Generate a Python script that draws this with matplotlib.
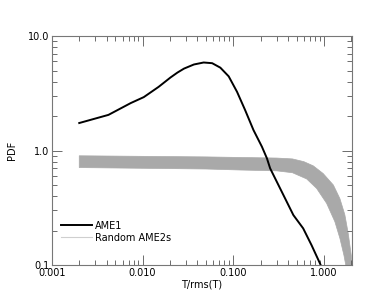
import numpy as np
import matplotlib
matplotlib.use("Agg")
import matplotlib.pyplot as plt
from matplotlib.ticker import FixedLocator, FixedFormatter, LogLocator, NullFormatter

# AME1 curve
ame1_x = [0.002, 0.0042, 0.0074, 0.0103, 0.015, 0.0203, 0.0242, 0.0286, 0.0368, 0.0471,
          0.0585, 0.072, 0.089, 0.110, 0.135, 0.167, 0.207, 0.235, 0.255, 0.357,
          0.46, 0.59, 0.73, 0.90, 0.93]
ame1_y = [1.74, 2.05, 2.6, 2.93, 3.6, 4.35, 4.8, 5.2, 5.65, 5.88,
          5.8, 5.3, 4.45, 3.26, 2.26, 1.51, 1.08, 0.855, 0.699, 0.409,
          0.273, 0.209, 0.149, 0.104, 0.098]

# Random AME2s band (upper and lower envelopes)
up_x = [0.002, 0.01, 0.05, 0.12, 0.3, 0.45, 0.6, 0.763, 0.98, 1.27, 1.5, 1.70, 1.85, 2.0, 2.03]
up_y = [0.90, 0.89, 0.88, 0.87, 0.86, 0.845, 0.80, 0.735, 0.63, 0.50, 0.38, 0.275, 0.19, 0.122, 0.1]
lo_x = [0.002, 0.01, 0.05, 0.12, 0.3, 0.45, 0.645, 0.83, 1.07, 1.32, 1.5, 1.66, 1.74]
lo_y = [0.71, 0.70, 0.69, 0.676, 0.665, 0.64, 0.565, 0.467, 0.346, 0.239, 0.171, 0.122, 0.1]

x_ticks = [0.001, 0.01, 0.1, 1.0]
x_labels = ["0.001", "0.010", "0.100", "1.000"]
y_ticks = [0.1, 1.0, 10.0]
y_labels = ["0.1", "1.0", "10.0"]

fig = plt.figure(figsize=(3.82, 3.06), dpi=100)
ax = fig.add_axes([0.136, 0.134, 0.785, 0.748])

band_x = np.concatenate([up_x, lo_x[::-1]])
band_y = np.concatenate([up_y, lo_y[::-1]])
ax.fill(band_x, band_y, color="#a9a9a9", lw=0.5, ec="#a9a9a9", zorder=1)
ax.plot(ame1_x, ame1_y, color="black", lw=1.4, zorder=2, label="AME1")
ax.plot([], [], color="#cfcfcf", lw=0.8, label="Random AME2s")

ax.set_xscale("log")
ax.set_yscale("log")
ax.set_xlim(0.001, 2.03)
ax.set_ylim(0.1, 10.0)

ax.xaxis.set_major_locator(FixedLocator(x_ticks))
ax.xaxis.set_major_formatter(FixedFormatter(x_labels))
ax.yaxis.set_major_locator(FixedLocator(y_ticks))
ax.yaxis.set_major_formatter(FixedFormatter(y_labels))
for a in (ax.xaxis, ax.yaxis):
    a.set_minor_locator(LogLocator(base=10, subs=np.arange(2, 10)))
    a.set_minor_formatter(NullFormatter())

ax.tick_params(which="both", direction="in", top=True, right=True,
               labelsize=7, color="#555555", width=0.6, pad=2)
ax.tick_params(which="major", length=7)
ax.tick_params(which="minor", length=3.5)
for s in ax.spines.values():
    s.set_color("#777777")
    s.set_linewidth(0.8)

ax.set_xlabel("T/rms(T)", fontsize=7, labelpad=1)
ax.set_ylabel("PDF", fontsize=7, labelpad=8)

ax.legend(loc="lower left", bbox_to_anchor=(0.0, 0.06), frameon=False, fontsize=7,
          handlelength=3.2, handletextpad=0.3, labelspacing=0.2)

fig.savefig("out.png", dpi=100)
